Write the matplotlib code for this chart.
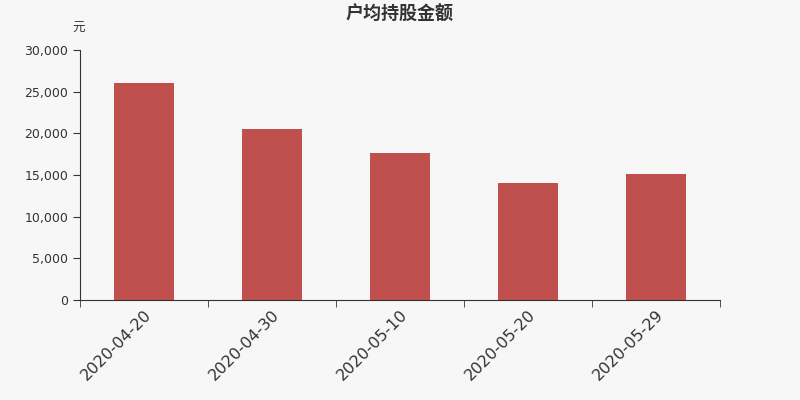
import matplotlib
matplotlib.use("Agg")
import matplotlib.pyplot as plt
from matplotlib.ticker import FuncFormatter, MultipleLocator
from matplotlib.transforms import ScaledTranslation
import numpy as np

plt.rcParams['font.family'] = ['DejaVu Sans', 'Noto Sans CJK SC']

dates = ["2020-04-20", "2020-04-30", "2020-05-10", "2020-05-20", "2020-05-29"]
amounts = [26000, 20480, 17600, 14000, 15120]

bg = "#f7f7f7"
fig = plt.figure(figsize=(8, 4), dpi=100, facecolor=bg)
ax = fig.add_axes([0.1, 0.25, 0.8, 0.625], facecolor=bg)

x = np.arange(len(dates))
ax.bar(x, amounts, width=0.47, color="#c0504e")

ax.set_xlim(-0.5, len(dates) - 0.5)
ax.set_ylim(0, 30000)
ax.yaxis.set_major_locator(MultipleLocator(5000))
ax.yaxis.set_major_formatter(FuncFormatter(lambda v, p: f"{int(v):,}"))

ax.set_xticks(x)
ax.set_xticklabels(dates, rotation=45, ha="right", rotation_mode="anchor", fontsize=11.5, color="#333333")
# nudge the rotated labels a little to the left
shift = ScaledTranslation(-5 / 100, 0, fig.dpi_scale_trans)
for lbl in ax.get_xticklabels():
    lbl.set_transform(lbl.get_transform() + shift)
ax.set_xticks(np.arange(len(dates) + 1) - 0.5, minor=True)
ax.tick_params(axis="x", which="major", length=0, pad=5)
ax.tick_params(axis="x", which="minor", length=5, color="#333333")
ax.tick_params(axis="y", length=5, color="#333333", labelsize=9, labelcolor="#333333")

for s in ["top", "right"]:
    ax.spines[s].set_visible(False)
for s in ["left", "bottom"]:
    ax.spines[s].set_color("#333333")

fig.text(0.5, 0.965, "户均持股金额", ha="center", va="center", fontsize=13, fontweight="bold",
         color="#333333", family=["Noto Sans CJK SC"])
fig.text(0.098, 0.93, "元", ha="center", va="center", fontsize=9, color="#333333",
         family=["Noto Sans CJK SC"])

fig.savefig("out.png", dpi=100, facecolor=bg)
